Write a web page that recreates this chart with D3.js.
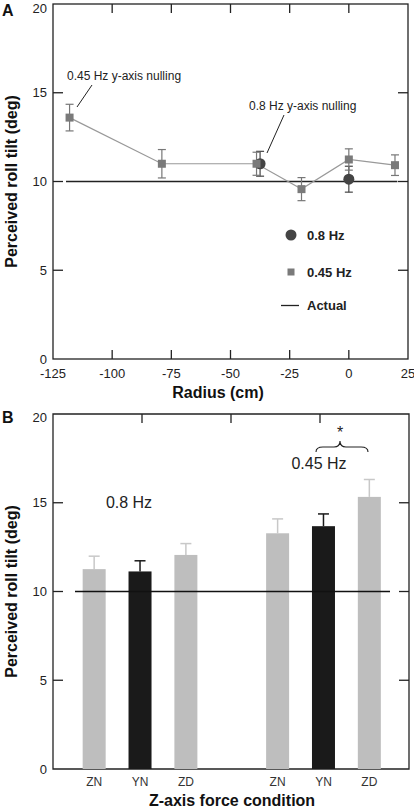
<!DOCTYPE html>
<html><head><meta charset="utf-8">
<script src="https://cdn.jsdelivr.net/npm/d3@7"></script>
<style>body{margin:0;background:#fff;} svg{display:block;font-family:"Liberation Sans",Arial,sans-serif;}</style>
</head><body>
<script>
// ---- Panel A data ----
const radius045 = [-118, -79, -39, -20, 0, 19.5];
const tilt045 = [13.6, 11.0, 11.0, 9.57, 11.24, 10.92];
const err045 = [0.75, 0.8, 0.65, 0.65, 0.6, 0.58];
const radius08 = [-37.5, 0];
const tilt08 = [11.0, 10.13];
const err08 = [0.7, 0.73];
const actualTilt = 10;
const xTicksA = [-125, -100, -75, -50, -25, 0, 25];
const yTicks = [0, 5, 10, 15, 20];
// ---- Panel B data ----
const conditions = ["ZN", "YN", "ZD", "ZN", "YN", "ZD"];
const slots = [1, 2, 3, 5, 6, 7];
const barTilt = [11.26, 11.13, 12.06, 13.28, 13.68, 15.33];
const barErr = [0.73, 0.6, 0.64, 0.81, 0.69, 0.98];
const isYN = [false, true, false, false, true, false];
const freqLabels = ["0.8 Hz", "0.45 Hz"];

const W = 414, H = 808;
const svg = d3.select("body").append("svg").attr("width", W).attr("height", H);
const tickCol = "#222";

// ================= Panel A =================
const xA = d3.scaleLinear().domain([-125, 25]).range([53, 408]);
const yA = d3.scaleLinear().domain([0, 20]).range([359, 4]);
const gA = svg.append("g");

// frame
gA.append("rect").attr("x", 53).attr("y", 4).attr("width", 355).attr("height", 355)
  .attr("fill", "none").attr("stroke", "#222").attr("stroke-width", 1.3);
// inward ticks
const innerX = xTicksA.slice(1, -1);
const innerY = yTicks.slice(1, -1);
innerX.forEach(v => {
  gA.append("line").attr("x1", xA(v)).attr("x2", xA(v)).attr("y1", 4).attr("y2", 13).attr("stroke", "#222").attr("stroke-width", 1.3);
  gA.append("line").attr("x1", xA(v)).attr("x2", xA(v)).attr("y1", 359).attr("y2", 350).attr("stroke", "#222").attr("stroke-width", 1.3);
});
innerY.forEach(v => {
  gA.append("line").attr("x1", 53).attr("x2", 63).attr("y1", yA(v)).attr("y2", yA(v)).attr("stroke", "#222").attr("stroke-width", 1.3);
  gA.append("line").attr("x1", 408).attr("x2", 398).attr("y1", yA(v)).attr("y2", yA(v)).attr("stroke", "#222").attr("stroke-width", 1.3);
});
// tick labels
gA.selectAll(".ylab").data(yTicks).enter().append("text")
  .attr("x", 47).attr("y", d => yA(d) + (d === 20 ? 8.5 : 4.5)).attr("text-anchor", "end")
  .attr("font-size", 13).attr("fill", tickCol).text(d => d);
gA.selectAll(".xlab").data(xTicksA).enter().append("text")
  .attr("x", d => xA(d)).attr("y", 378).attr("text-anchor", "middle")
  .attr("font-size", 13).attr("fill", tickCol).text(d => d);
gA.append("text").attr("x", 218).attr("y", 398).attr("text-anchor", "middle")
  .attr("font-size", 16).attr("font-weight", "bold").attr("fill", "#111").text("Radius (cm)");
gA.append("text").attr("transform", `translate(17,${(4 + 359) / 2}) rotate(-90)`)
  .attr("text-anchor", "middle").attr("font-size", 16).attr("font-weight", "bold").attr("fill", "#111")
  .text("Perceived roll tilt (deg)");
gA.append("text").attr("x", 2).attr("y", 16).attr("font-size", 16).attr("font-weight", "bold").attr("fill", "#111").text("A");

// actual line
gA.append("line").attr("x1", xA(-119.5)).attr("x2", xA(20.5)).attr("y1", yA(actualTilt)).attr("y2", yA(actualTilt))
  .attr("stroke", "#222").attr("stroke-width", 1.3);

// 0.45 Hz series
const pts045 = radius045.map((r, i) => ({ x: r, y: tilt045[i], e: err045[i] }));
const pts08 = radius08.map((r, i) => ({ x: r, y: tilt08[i], e: err08[i] }));
gA.append("path").datum(pts045)
  .attr("d", d3.line().x(d => xA(d.x)).y(d => yA(d.y)))
  .attr("fill", "none").attr("stroke", "#999").attr("stroke-width", 1.2);

function errBars(g, pts, col) {
  pts.forEach(p => {
    const cx = xA(p.x);
    g.append("line").attr("x1", cx).attr("x2", cx).attr("y1", yA(p.y - p.e)).attr("y2", yA(p.y + p.e)).attr("stroke", col).attr("stroke-width", 1.2);
    [p.y - p.e, p.y + p.e].forEach(v => g.append("line").attr("x1", cx - 4).attr("x2", cx + 4).attr("y1", yA(v)).attr("y2", yA(v)).attr("stroke", col).attr("stroke-width", 1.2));
  });
}
errBars(gA, pts08, "#444");
errBars(gA, pts045, "#777");
gA.selectAll(".circ").data(pts08).enter().append("circle")
  .attr("cx", d => xA(d.x)).attr("cy", d => yA(d.y)).attr("r", 5.5).attr("fill", "#444");
gA.selectAll(".sq").data(pts045).enter().append("rect")
  .attr("x", d => xA(d.x) - 4).attr("y", d => yA(d.y) - 4).attr("width", 8).attr("height", 8).attr("fill", "#7a7a7a");

// annotations
gA.append("text").attr("x", 67).attr("y", 80).attr("font-size", 12).attr("fill", "#222").text("0.45 Hz y-axis nulling");
gA.append("line").attr("x1", 92).attr("y1", 85).attr("x2", 77).attr("y2", 107).attr("stroke", "#222").attr("stroke-width", 1);
gA.append("text").attr("x", 249).attr("y", 110).attr("font-size", 12).attr("fill", "#222").text("0.8 Hz y-axis nulling");
gA.append("line").attr("x1", 284).attr("y1", 115).attr("x2", 267).attr("y2", 153).attr("stroke", "#222").attr("stroke-width", 1);

// legend
gA.append("circle").attr("cx", 291).attr("cy", 235).attr("r", 5.5).attr("fill", "#444");
gA.append("text").attr("x", 307).attr("y", 240).attr("font-size", 13).attr("font-weight", "bold").attr("fill", "#222").text("0.8 Hz");
gA.append("rect").attr("x", 287.5).attr("y", 268.5).attr("width", 7).attr("height", 7).attr("fill", "#7a7a7a");
gA.append("text").attr("x", 307).attr("y", 277).attr("font-size", 13).attr("font-weight", "bold").attr("fill", "#222").text("0.45 Hz");
gA.append("line").attr("x1", 281).attr("x2", 299).attr("y1", 305.5).attr("y2", 305.5).attr("stroke", "#222").attr("stroke-width", 1.3);
gA.append("text").attr("x", 307).attr("y", 310).attr("font-size", 13).attr("font-weight", "bold").attr("fill", "#222").text("Actual");

// ================= Panel B =================
const xB = d3.scaleLinear().domain([0, 8]).range([48.3, 415.2]);
const frameB = d3.scaleLinear().domain([0, 4]).range([53, 409]);
const yB = d3.scaleLinear().domain([0, 20]).range([769, 414]);
const gB = svg.append("g");

gB.append("path").attr("d", `M53,414 L409,414 L409,769 L53,769 Z`)
  .attr("fill", "none").attr("stroke", "#222").attr("stroke-width", 1.3);
[1, 2, 3].forEach(v => {
  gB.append("line").attr("x1", frameB(v)).attr("x2", frameB(v)).attr("y1", 414).attr("y2", 423).attr("stroke", "#222").attr("stroke-width", 1.3);
});
innerY.forEach(v => {
  gB.append("line").attr("x1", 53).attr("x2", 63).attr("y1", yB(v)).attr("y2", yB(v)).attr("stroke", "#222").attr("stroke-width", 1.3);
  gB.append("line").attr("x1", 409).attr("x2", 399).attr("y1", yB(v)).attr("y2", yB(v)).attr("stroke", "#222").attr("stroke-width", 1.3);
});
gB.selectAll(".ylab").data(yTicks).enter().append("text")
  .attr("x", 47).attr("y", d => yB(d) + (d === 20 ? 7.5 : 4.5)).attr("text-anchor", "end")
  .attr("font-size", 13).attr("fill", tickCol).text(d => d);

const bars = conditions.map((c, i) => ({ c, s: slots[i], v: barTilt[i], e: barErr[i], yn: isYN[i] }));
const bw = 23;
bars.forEach(b => {
  const cx = xB(b.s);
  const errCol = b.yn ? "#1a1a1a" : "#c8c8c8";
  gB.append("line").attr("x1", cx).attr("x2", cx).attr("y1", yB(b.v)).attr("y2", yB(b.v + b.e)).attr("stroke", errCol).attr("stroke-width", 1.5);
  gB.append("line").attr("x1", cx - 5.5).attr("x2", cx + 5.5).attr("y1", yB(b.v + b.e)).attr("y2", yB(b.v + b.e)).attr("stroke", errCol).attr("stroke-width", 1.5);
  gB.append("rect").attr("x", cx - bw / 2).attr("y", yB(b.v)).attr("width", bw).attr("height", yB(0) - yB(b.v))
    .attr("fill", b.yn ? "#1a1a1a" : "#bebebe");
  gB.append("text").attr("x", cx).attr("y", 786).attr("text-anchor", "middle").attr("font-size", 12).attr("fill", "#333").text(b.c);
});
// actual line
gB.append("line").attr("x1", 75).attr("x2", 390).attr("y1", yB(actualTilt)).attr("y2", yB(actualTilt)).attr("stroke", "#111").attr("stroke-width", 1.3);

gB.append("text").attr("x", 129).attr("y", 508).attr("text-anchor", "middle").attr("font-size", 16).attr("fill", "#222").text(freqLabels[0]);
gB.append("text").attr("x", 319).attr("y", 469).attr("text-anchor", "middle").attr("font-size", 16).attr("fill", "#222").text(freqLabels[1]);
// brace
gB.append("path").attr("d", "M316,452 Q316,447 323,447 L334,447 Q340,447 340,441 Q340,447 346,447 L361,447 Q368,447 368,452")
  .attr("fill", "none").attr("stroke", "#222").attr("stroke-width", 1.1);
gB.append("text").attr("x", 340).attr("y", 438).attr("text-anchor", "middle").attr("font-size", 16).attr("fill", "#222").text("*");

gB.append("text").attr("x", 232).attr("y", 806).attr("text-anchor", "middle")
  .attr("font-size", 16).attr("font-weight", "bold").attr("fill", "#111").text("Z-axis force condition");
gB.append("text").attr("transform", `translate(17,${(414 + 769) / 2}) rotate(-90)`)
  .attr("text-anchor", "middle").attr("font-size", 16).attr("font-weight", "bold").attr("fill", "#111")
  .text("Perceived roll tilt (deg)");
gB.append("text").attr("x", 2).attr("y", 423).attr("font-size", 16).attr("font-weight", "bold").attr("fill", "#111").text("B");
</script>
</body></html>
